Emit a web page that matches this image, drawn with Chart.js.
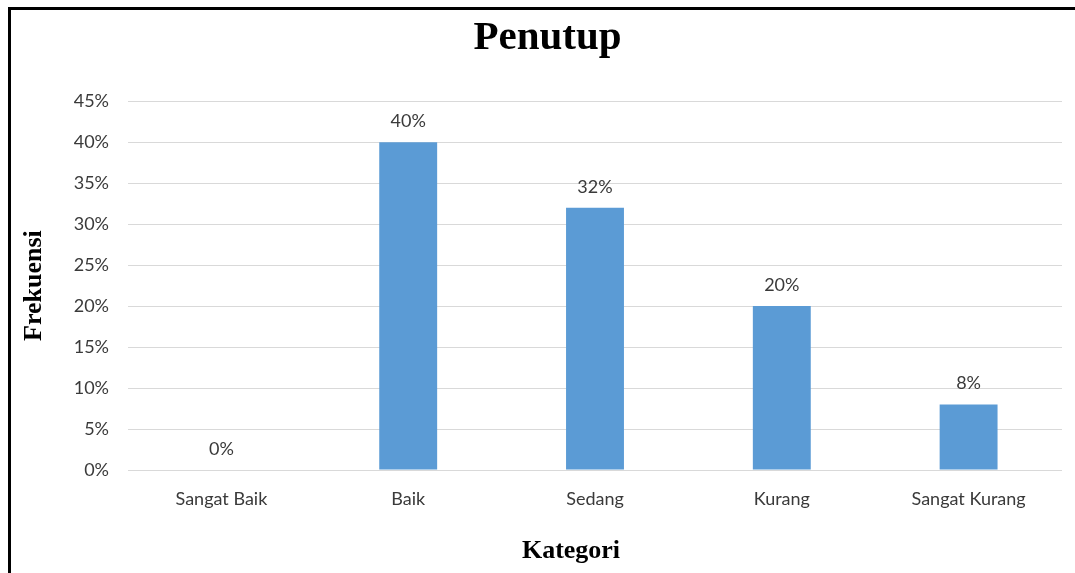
<!DOCTYPE html>
<html>
<head>
<meta charset="utf-8">
<script src="https://cdn.jsdelivr.net/npm/chart.js@4.4.1/dist/chart.umd.min.js"></script>
<style>
  html, body { margin: 0; padding: 0; background: #fff; }
  #wrap { position: relative; width: 1075px; height: 573px; overflow: hidden; }
  #frame { position: absolute; left: 8px; top: 7px; right: -10px; bottom: -10px;
           border-left: 3px solid #000; border-top: 3px solid #000; pointer-events: none; }
</style>
</head>
<body>
<div id="wrap">
  <canvas id="chart" width="1075" height="573"></canvas>
  <div id="frame"></div>
</div>
<script>
// data
const categories = ['Sangat Baik', 'Baik', 'Sedang', 'Kurang', 'Sangat Kurang'];
const values = [0, 40, 32, 20, 8];          // percent
const yMax = 45;
const yStep = 5;

const tickFont = { family: 'Lato, "Open Sans", sans-serif', size: 18 };
const serifBold = { family: '"Liberation Serif", "Times New Roman", serif', weight: 'bold' };

// labels above each bar
const barLabels = {
  id: 'barLabels',
  afterDatasetsDraw(chart) {
    const ctx = chart.ctx;
    const meta = chart.getDatasetMeta(0);
    ctx.save();
    ctx.font = `${tickFont.size}px ${tickFont.family}`;
    ctx.fillStyle = '#3a3a3a';
    ctx.textAlign = 'center';
    ctx.textBaseline = 'alphabetic';
    meta.data.forEach((bar, i) => {
      ctx.fillText(values[i] + '%', bar.x, bar.y - 15);
    });
    ctx.restore();
  }
};

// x axis title (sits a bit left of the plot centre in the original)
const xTitle = {
  id: 'xTitle',
  afterDraw(chart) {
    const ctx = chart.ctx;
    ctx.save();
    ctx.font = `bold 26px ${serifBold.family}`;
    ctx.fillStyle = '#000';
    ctx.textAlign = 'center';
    ctx.textBaseline = 'alphabetic';
    ctx.fillText('Kategori', 571, 558);
    ctx.restore();
  }
};

new Chart(document.getElementById('chart'), {
  type: 'bar',
  data: {
    labels: categories,
    datasets: [{
      data: values,
      backgroundColor: '#5B9BD5',
      borderWidth: 0,
      categoryPercentage: 1,
      barPercentage: 0.31
    }]
  },
  options: {
    responsive: false,
    animation: false,
    layout: { padding: { left: 33, right: 13, top: 0, bottom: 0 } },
    plugins: {
      legend: { display: false },
      tooltip: { enabled: false },
      title: {
        display: true,
        text: 'Penutup',
        color: '#000',
        font: { ...serifBold, size: 41 },
        padding: { top: 14, bottom: 38 }
      }
    },
    scales: {
      x: {
        grid: { display: false },
        border: { display: false },
        ticks: { color: '#3a3a3a', font: tickFont, padding: 10 },
        afterFit(scale) { scale.height = 103; }
      },
      y: {
        min: 0,
        max: yMax,
        grid: { color: '#d9d9d9', drawTicks: false },
        border: { display: false },
        ticks: {
          stepSize: yStep,
          color: '#3a3a3a',
          font: tickFont,
          padding: 19,
          callback: v => v + '%'
        },
        title: {
          display: true,
          text: 'Frekuensi',
          color: '#000',
          font: { ...serifBold, size: 26 },
          padding: { top: -14, bottom: 0 }
        },
        afterFit(scale) { scale.width = 95; }
      }
    }
  },
  plugins: [barLabels, xTitle]
});
</script>
</body>
</html>
